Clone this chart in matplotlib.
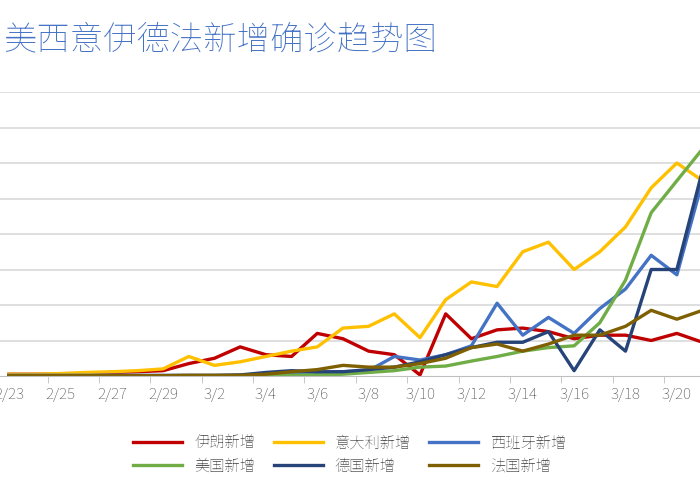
import matplotlib.pyplot as plt
from matplotlib import font_manager as fm
import numpy as np

# find a CJK font file directly
cjk = None
for f in fm.findSystemFonts():
    if 'NotoSansCJK' in f.replace(' ', '') or 'NotoSansSC' in f:
        cjk = f
        break
if cjk:
    fm.fontManager.addfont(cjk)
    plt.rcParams['font.family'] = [fm.FontProperties(fname=cjk).get_name(), 'DejaVu Sans']

dates = ["2/23", "2/24", "2/25", "2/26", "2/27", "2/28", "2/29", "3/1", "3/2", "3/3",
         "3/4", "3/5", "3/6", "3/7", "3/8", "3/9", "3/10", "3/11", "3/12", "3/13",
         "3/14", "3/15", "3/16", "3/17", "3/18", "3/19", "3/20", "3/21"]

# values in gridline units (scale cropped off in the reference)
iran = [0.05, 0.05, 0.05, 0.07, 0.1, 0.12, 0.15, 0.35, 0.5, 0.82, 0.6, 0.55, 1.2, 1.05,
        0.7, 0.6, 0.03, 1.75, 1.05, 1.3, 1.35, 1.25, 1.05, 1.15, 1.15, 1.0, 1.2, 0.95]
italy = [0.05, 0.05, 0.07, 0.1, 0.12, 0.15, 0.2, 0.55, 0.3, 0.4, 0.55, 0.7, 0.82, 1.35,
         1.4, 1.75, 1.08, 2.15, 2.65, 2.52, 3.5, 3.77, 3.0, 3.5, 4.2, 5.3, 6.0, 5.5]
spain = [0.02, 0.02, 0.02, 0.02, 0.02, 0.02, 0.02, 0.02, 0.02, 0.02, 0.02, 0.05, 0.1, 0.12,
         0.15, 0.55, 0.45, 0.6, 0.85, 2.05, 1.15, 1.65, 1.2, 1.9, 2.45, 3.4, 2.85, 5.5]
usa = [0, 0, 0, 0, 0, 0, 0, 0, 0, 0, 0, 0.02, 0.03, 0.05,
       0.1, 0.15, 0.25, 0.28, 0.42, 0.55, 0.7, 0.8, 0.85, 1.5, 2.7, 4.6, 5.5, 6.4]
germany = [0, 0, 0, 0, 0, 0, 0, 0, 0.01, 0.03, 0.1, 0.15, 0.12, 0.12,
           0.18, 0.25, 0.4, 0.6, 0.8, 0.95, 0.95, 1.25, 0.15, 1.3, 0.7, 3.0, 3.0, 5.8]
france = [0.01, 0.01, 0.01, 0.01, 0.01, 0.01, 0.01, 0.02, 0.02, 0.02, 0.05, 0.12, 0.18, 0.3,
          0.25, 0.25, 0.35, 0.5, 0.8, 0.9, 0.7, 0.9, 1.15, 1.15, 1.4, 1.85, 1.6, 1.85]

series = [("伊朗新增", iran, "#C00000"), ("意大利新增", italy, "#FFC000"),
          ("西班牙新增", spain, "#4472C4"), ("美国新增", usa, "#70AD47"),
          ("德国新增", germany, "#264478"), ("法国新增", france, "#7F6000")]

fig = plt.figure(figsize=(7, 5), dpi=100)
ax = fig.add_axes([0, 0.248, 1, 0.568])
x = np.arange(len(dates))
lines = []
for name, vals, col in series:
    lines += ax.plot(x, vals, color=col, lw=2.4, label=name)

ax.set_xlim(-0.35, 26.9)
ax.set_ylim(0, 8)
ax.set_yticks(np.arange(1, 9))
ax.yaxis.grid(True, color='#d9d9d9', lw=1.2)
ax.tick_params(axis='y', left=False, labelleft=False)
ax.set_xticks(x[::2])
ax.set_xticklabels(dates[::2], fontsize=11, color='#595959')
ax.set_xticks(np.arange(1.5, 27, 2), minor=True)
ax.tick_params(axis='x', which='major', length=0, pad=8)
ax.tick_params(axis='x', which='minor', length=5, color='#bfbfbf')
for s in ['top', 'right', 'left']:
    ax.spines[s].set_visible(False)
ax.spines['bottom'].set_color('#bfbfbf')
ax.set_axisbelow(True)

fig.text(0.005, 0.92, "美西意伊德法新增确诊趋势图", fontsize=24, color='#4472C4',
         va='center', ha='left')
# row-wise ordering for a 3-column legend
order = [0, 3, 1, 4, 2, 5]
fig.legend([lines[i] for i in order], [series[i][0] for i in order],
           loc='center', bbox_to_anchor=(0.5, 0.09), ncol=3, frameon=False,
           fontsize=11, handlelength=3.2, columnspacing=1.2, labelcolor='#595959')
fig.savefig('out.png', dpi=100)
